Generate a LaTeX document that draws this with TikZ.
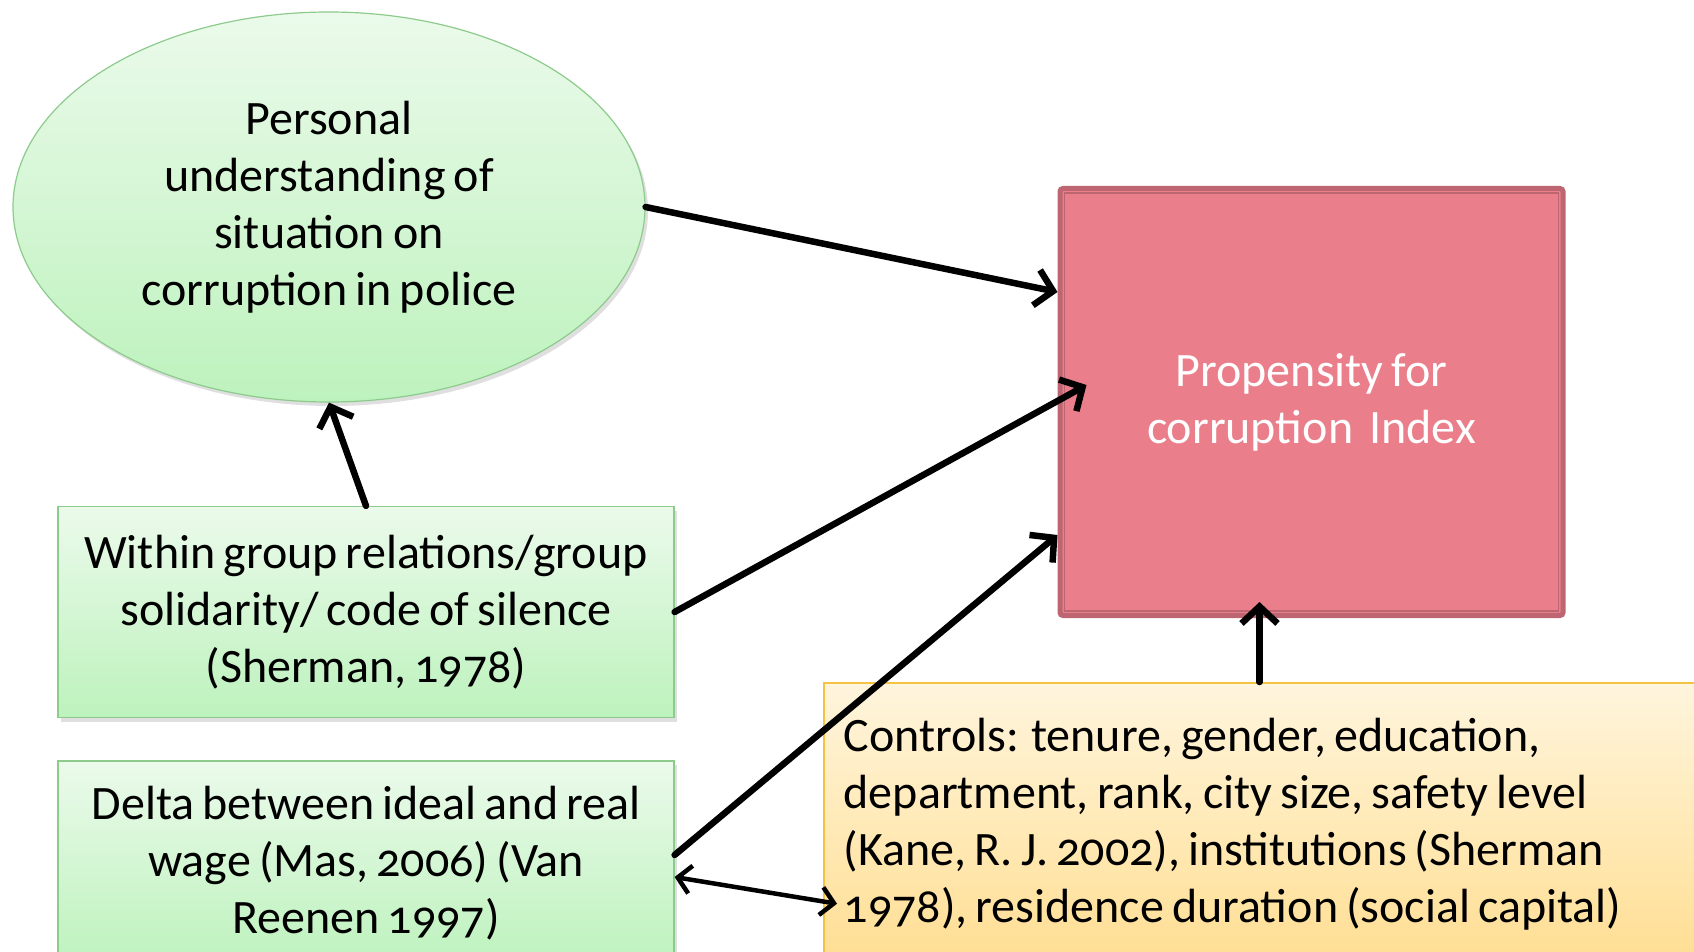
\documentclass[tikz,border=0pt]{standalone}
\usepackage{fontspec}
\setmainfont[Numbers=OldStyle, WordSpace=0.75]{Carlito}
\usepackage{tikz}
\usetikzlibrary{shapes, positioning, arrows.meta, shadows}

\definecolor{greentop}{HTML}{EBFAEB}
\definecolor{greenbot}{HTML}{BDF2BD}
\definecolor{greenline}{HTML}{8DCB8D}
\definecolor{pinkfill}{HTML}{EA7F8B}
\definecolor{pinkline}{HTML}{BD6570}
\definecolor{yellowtop}{HTML}{FFF5DD}
\definecolor{yellowbot}{HTML}{FFDE92}
\definecolor{yellowline}{HTML}{F5C343}

\begin{document}
\begin{tikzpicture}[
      x=1pt, y=-1pt,
      every node/.style={font=\fontsize{48}{57}\selectfont},
      greenshape/.style={draw=greenline, line width=1.2pt, top color=greentop,
        bottom color=greenbot, align=center,
        drop shadow={opacity=0.25, shadow xshift=3pt, shadow yshift=-4pt}},
      greenbox/.style={greenshape, rectangle, minimum width=616pt},
      link/.style={line width=6.5pt, line cap=round, line join=round,
        -{Straight Barb[length=17pt, width=36pt]}}
    ]
    \useasboundingbox (0,0) rectangle (1694,952);

    \node[greenshape, ellipse, minimum width=632pt, minimum height=390pt] (pers) at (329,207)
      {Personal\\ understanding of\\ situation on\\ corruption in police};

    \node[rectangle, draw=pinkline, line width=5pt, rounded corners=3pt, fill=pinkfill,
      minimum width=503pt, minimum height=427pt, text=white, align=center] (prop) at (1311.5,402)
      {Propensity for\\ corruption\ \ Index};
    \draw[pinkline, line width=1.5pt] ([shift={(7pt,-7pt)}]prop.north west) rectangle ([shift={(-7pt,7pt)}]prop.south east);

    \node[greenbox, minimum height=211pt] (within) at (366,612)
      {Within group relations/group\\ solidarity/ code of silence\\ (Sherman, 1978)};

    \node[greenbox, minimum height=204pt] (delta) at (366,863)
      {Delta between ideal and real\\ wage (Mas, 2006) (Van\\ Reenen 1997)};

    \node[draw=yellowline, line width=1.5pt, top color=yellowtop, bottom color=yellowbot,
      anchor=north west, minimum width=900pt, minimum height=282pt, text width=860pt,
      inner xsep=20pt, align=flush left] (ctrl) at (823,682)
      {Controls: tenure, gender, education,\\ department, rank, city size, safety level\\
       (Kane, R. J. 2002), institutions (Sherman\\ 1978), residence duration (social capital)};

    \draw[link] (pers.east) -- ([yshift=110pt]prop.west);
    \draw[link] (within.north) -- (pers.south);
    \draw[link] (within.east) -- ([xshift=29pt,yshift=17pt]prop.west);
    \draw[link] ([yshift=8pt]delta.east) -- ([yshift=-133pt]prop.west);
    \draw[link] ([xshift=-52pt]prop.south |- ctrl.north) -- ([xshift=-52pt,yshift=16pt]prop.south);
    \draw[link, line width=4.5pt, {Straight Barb[length=13pt, width=28pt]}-{Straight Barb[length=13pt, width=28pt]}]
      ([yshift=-14pt]delta.east) -- ([xshift=14pt,yshift=-80pt]ctrl.west);
\end{tikzpicture}
\end{document}
